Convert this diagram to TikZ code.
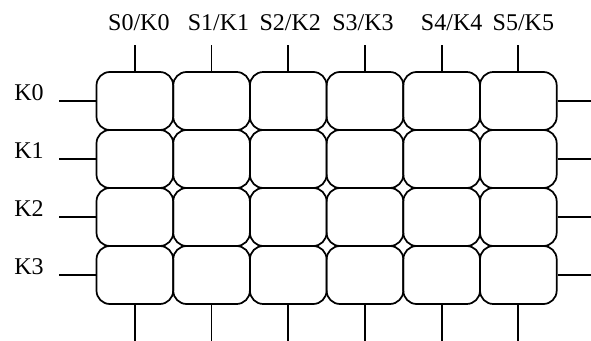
\documentclass[tikz,border=0pt]{standalone}
\usepackage{fontspec}
\setmainfont{Liberation Serif}
\usetikzlibrary{positioning,calc}
\tikzset{
    cell/.style={rectangle, draw, line width=1.3pt, rounded corners=10pt, minimum width=57.5pt, minimum height=43.5pt, inner sep=0pt},
    lead/.style={line width=1.3pt},
    keylabel/.style={font=\fontsize{18}{20}\selectfont, inner sep=0pt},
}

\begin{document}
\begin{tikzpicture}[x=0.75pt, y=-0.75pt]
    \useasboundingbox (0,0) rectangle (591,341);

    % key cells
    \foreach \r in {0,...,3}
        \foreach \c in {0,...,5}
            \node[cell] (c\r\c) at (134.85+76.7*\c, 101+58*\r) {};

    % column leads
    \foreach \c/\dx/\txt in {0/4/{S0/K0}, 1/7/{S1/K1}, 2/2/{S2/K2}, 3/-2/{S3/K3}, 4/10/{S4/K4}, 5/5/{S5/K5}} {
        \coordinate (t\c) at (134.85+76.7*\c, 45);
        \coordinate (b\c) at (134.85+76.7*\c, 341);
        \draw[lead] (c0\c.north) -- (t\c);
        \draw[lead] (c3\c.south) -- (b\c);
        \node[keylabel] (s\c) at ($(t\c)+(\dx,-22)$) {\txt};
    }

    % row leads
    \foreach \r in {0,...,3} {
        \coordinate (l\r) at (59, 101+58*\r);
        \coordinate (r\r) at (591, 101+58*\r);
        \draw[lead] (l\r) -- (c\r0.west);
        \draw[lead] (c\r5.east) -- (r\r);
        \node[keylabel, anchor=base east] (k\r) at ($(l\r)+(-15,0)$) {K\r};
    }
\end{tikzpicture}
\end{document}
